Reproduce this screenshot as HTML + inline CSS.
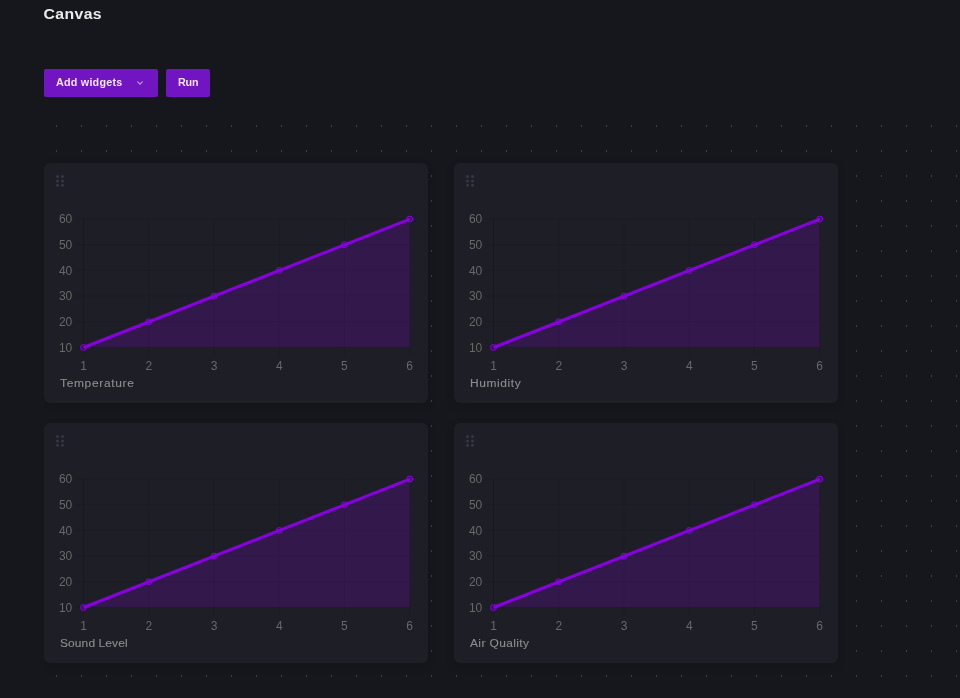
<!DOCTYPE html>
<html lang="en">
<head>
<meta charset="utf-8">
<title>Canvas</title>
<style>
  html, body { margin: 0; padding: 0; }
  body {
    width: 960px; height: 698px; overflow: hidden; position: relative;
    background: #16171d;
    font-family: "Liberation Sans", sans-serif;
    color: #ebebeb;
  }
  .title, .btn, .card .label, .card svg { will-change: transform; }
  .title {
    position: absolute; left: 44px; top: 4px; margin: 0;
    font-size: 14.5px; line-height: 20px; font-weight: 700;
    letter-spacing: 0.32px; transform: translate(-0.4px, 0.4px) scaleX(1.09); transform-origin: 0 0; color: #ebebeb; white-space: nowrap;
  }
  .btn {
    position: absolute; top: 69px; height: 28px; box-sizing: border-box;
    background: #7015c1; border-radius: 2px; color: #f1e9fa;
    font-size: 10.75px; font-weight: 700; line-height: 28px; white-space: nowrap;
  }
  .btn-add { left: 44px; width: 114px; }
  .btn-add span { position: absolute; left: 12px; top: -1px; letter-spacing: 0.23px; }
  .btn-add svg { position: absolute; left: 92px; top: 11px; }
  .btn-run { left: 166px; width: 44px; }
  .btn-run span { position: absolute; left: 12px; top: -1px; letter-spacing: -0.2px; }

  .canvas { position: absolute; left: 44px; top: 113px; width: 916px; height: 585px; overflow: hidden; }
  .grid { position: absolute; left: 0; top: 0; width: 916px; height: 585px; }

  .card {
    position: absolute; width: 384px; height: 240px;
    background: #1e1e27; border-radius: 6px;
    box-shadow: 0 3px 9px rgba(0,0,0,0.13);
  }
  .card svg { position: absolute; left: 0; top: 0; }
  .card .label {
    position: absolute; left: 16px; top: 214px;
    font-size: 10px; line-height: 14px; color: #8b8b8b;
    -webkit-text-stroke: 0.12px #8b8b8b;
    letter-spacing: 0.5px; white-space: nowrap;
    transform: scaleX(1.195); transform-origin: 0 0;
  }
  .c1 { left: 0;     top: 50px; }
  .c2 { left: 410px; top: 50px; }
  .c3 { left: 0;     top: 310px; }
  .c4 { left: 410px; top: 310px; }
</style>
</head>
<body>

<h1 class="title">Canvas</h1>

<div class="btn btn-add"><span>Add widgets</span>
  <svg width="8" height="6" viewBox="0 0 8 6"><path d="M1.4 1.5 L4 4.1 L6.6 1.5" fill="none" stroke="#aa9fbc" stroke-width="1.1"/></svg>
</div>
<div class="btn btn-run"><span>Run</span></div>

<div class="canvas">
<svg class="grid" width="916" height="585" viewBox="0 0 916 585">
  <defs>
    <pattern id="dots" x="0" y="0" width="25" height="25" patternUnits="userSpaceOnUse">
      <rect x="12" y="12" width="1" height="2" fill="#3e3d50"/>
    </pattern>
  </defs>
  <rect x="0" y="0" width="916" height="585" fill="url(#dots)"/>
</svg>

<svg width="0" height="0" style="position:absolute">
  <defs>
    <g id="chart">
      <!-- drag handle -->
      <g fill="#363646">
        <circle cx="13.5" cy="13.5" r="1.5"/><circle cx="18.5" cy="13.5" r="1.5"/>
        <circle cx="13.5" cy="17.9" r="1.5"/><circle cx="18.5" cy="17.9" r="1.5"/>
        <circle cx="13.5" cy="22.35" r="1.5"/><circle cx="18.5" cy="22.35" r="1.5"/>
      </g>
      <!-- grid lines -->
      <g stroke="#000" stroke-opacity="0.1" stroke-width="1" fill="none">
        <path d="M31.5 55.9H365.7 M31.5 81.58H365.7 M31.5 107.26H365.7 M31.5 132.94H365.7 M31.5 158.62H365.7 M31.5 184.3H365.7"/>
        <path d="M39.5 55.9V192.3 M104.74 55.9V192.3 M169.98 55.9V192.3 M235.22 55.9V192.3 M300.46 55.9V192.3 M365.7 55.9V192.3"/>
        <path d="M39.5 55.9V184.3 M39.5 184.3H365.7"/>
      </g>
      <!-- area -->
      <path d="M39.5 184.5 L365.7 56.1 L365.7 184.5 Z" fill="#8800e0" fill-opacity="0.2"/>
      <path d="M39.5 184.5 L365.7 56.1" fill="none" stroke="#8800e0" stroke-width="3"/>
      <g fill="#8800e0" fill-opacity="0.2" stroke="#8800e0" stroke-width="1">
        <circle cx="39.5"   cy="184.5"  r="3"/>
        <circle cx="104.74" cy="158.82" r="3"/>
        <circle cx="169.98" cy="133.14" r="3"/>
        <circle cx="235.22" cy="107.46" r="3"/>
        <circle cx="300.46" cy="81.78"  r="3"/>
        <circle cx="365.7"  cy="56.1"   r="3"/>
      </g>
      <!-- tick labels -->
      <g font-family="Liberation Sans, sans-serif" font-size="12" fill="#686868">
        <g text-anchor="end">
          <text x="28.3" y="60">60</text>
          <text x="28.3" y="85.7">50</text>
          <text x="28.3" y="112.2">40</text>
          <text x="28.3" y="137.1">30</text>
          <text x="28.3" y="162.8">20</text>
          <text x="28.3" y="188.5">10</text>
        </g>
        <g text-anchor="middle">
          <text x="39.5" y="206.5">1</text>
          <text x="104.74" y="206.5">2</text>
          <text x="169.98" y="206.5">3</text>
          <text x="235.22" y="206.5">4</text>
          <text x="300.46" y="206.5">5</text>
          <text x="365.7" y="206.5">6</text>
        </g>
      </g>
    </g>
  </defs>
</svg>

<div class="card c1"><svg width="384" height="240"><use href="#chart"/></svg><div class="label" style="letter-spacing:0.57px">Temperature</div></div>
<div class="card c2"><svg width="384" height="240"><use href="#chart"/></svg><div class="label" style="letter-spacing:0.5px">Humidity</div></div>
<div class="card c3"><svg width="384" height="240"><use href="#chart"/></svg><div class="label" style="letter-spacing:0.1px">Sound Level</div></div>
<div class="card c4"><svg width="384" height="240"><use href="#chart"/></svg><div class="label" style="letter-spacing:0.33px">Air Quality</div></div>
</div>

</body>
</html>
